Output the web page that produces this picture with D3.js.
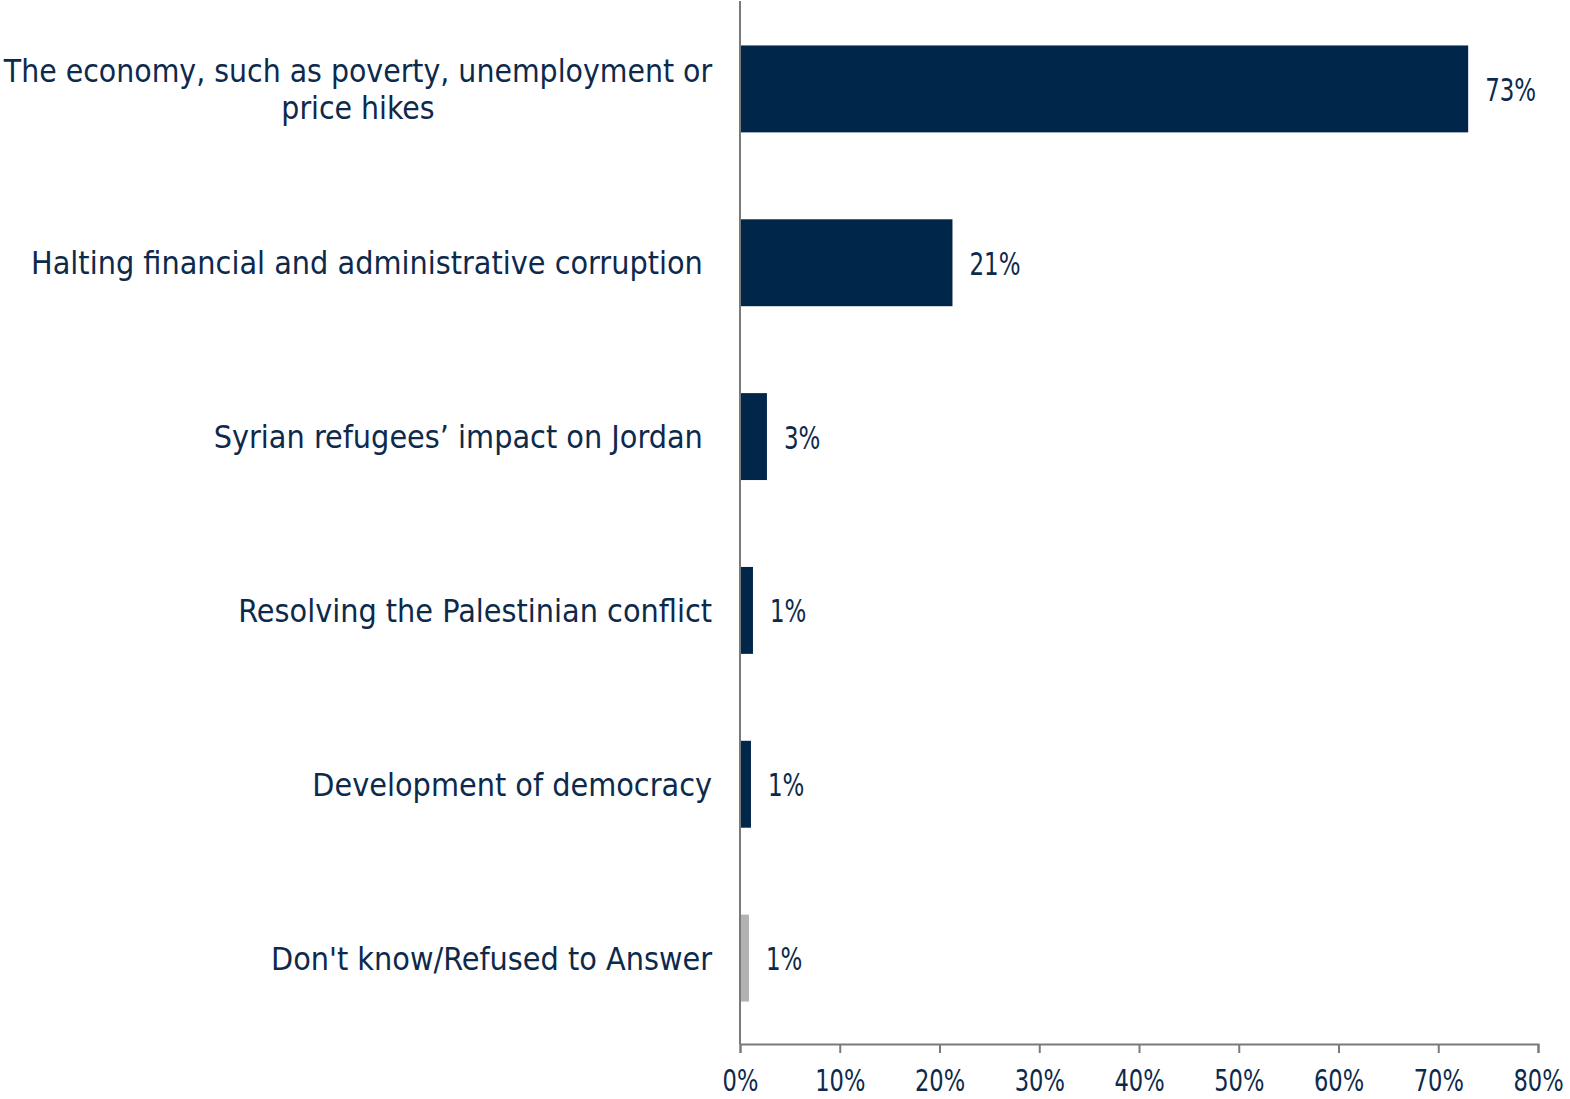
<!DOCTYPE html>
<html><head><meta charset="utf-8">
<script src="https://cdn.jsdelivr.net/npm/d3@7"></script>
<style>body{margin:0;background:#fff}svg{display:block}</style>
</head><body>
<svg id="c" width="1570" height="1099"></svg>
<script>
const categories = [
  ["The economy, such as poverty, unemployment or", "price hikes"],
  ["Halting financial and administrative corruption "],
  ["Syrian refugees’ impact on Jordan "],
  ["Resolving the Palestinian conflict"],
  ["Development of democracy"],
  ["Don't know/Refused to Answer"]
];
const values = [73.0, 21.3, 2.7, 1.3, 1.1, 0.9];
const valueLabels = ["73%", "21%", "3%", "1%", "1%", "1%"];
const barColors = ["#00264a", "#00264a", "#00264a", "#00264a", "#00264a", "#b2b2b2"];
const ticks = [0, 10, 20, 30, 40, 50, 60, 70, 80];

const svg = d3.select("#c");
const m = {left: 740, right: 1538, top: 1, bottom: 1044};
const font = "'DejaVu Sans Condensed', 'DejaVu Sans', sans-serif";
const textColor = "#0d2a4c";
const numScale = 0.81;

const x = d3.scaleLinear().domain([0, 80]).range([m.left, m.right]);
const y = d3.scaleBand().domain(d3.range(categories.length)).range([m.top, m.bottom]).paddingInner(0.5).paddingOuter(0.25);

// bars
svg.selectAll("rect.bar").data(values).join("rect")
  .attr("x", x(0)).attr("y", (d, i) => y(i) + 1)
  .attr("width", d => x(d) - x(0)).attr("height", y.bandwidth())
  .attr("fill", (d, i) => barColors[i]);

// x axis
const xa = svg.append("g").attr("transform", `translate(0,${m.bottom})`)
  .call(d3.axisBottom(x).tickValues(ticks).tickSize(9).tickFormat(d => d + "%"));
xa.select(".domain").attr("stroke", "#7a7a7a").attr("stroke-width", 2);
xa.selectAll(".tick line").attr("stroke", "#7a7a7a").attr("stroke-width", 2);
xa.selectAll(".tick text").attr("fill", textColor).attr("font-family", font)
  .attr("font-size", 31).attr("dy", null).attr("y", 47)
  .attr("transform", `scale(${numScale},1)`);

// y axis line
svg.append("line").attr("x1", x(0)).attr("x2", x(0)).attr("y1", m.top).attr("y2", m.bottom)
  .attr("stroke", "#7a7a7a").attr("stroke-width", 2);

// category labels
categories.forEach((lines, i) => {
  const cy = y(i) + 1 + y.bandwidth() / 2;
  const n = lines.length;
  lines.forEach((t, j) => {
    const multi = n > 1;
    svg.append("text")
      .attr("xml:space", "preserve").style("white-space", "pre")
      .attr("x", multi ? 358 : 712)
      .attr("y", cy + 11.5 + (j - (n - 1) / 2) * 37)
      .attr("text-anchor", multi ? "middle" : "end")
      .attr("font-family", font).attr("font-size", multi ? 31.6 : 32).attr("fill", textColor)
      .text(t);
  });
});

// value labels
const vg = svg.selectAll("g.val").data(values).join("g").attr("class", "val")
  .attr("transform", (d, i) => `translate(${x(d) + 17},${y(i) + 1 + y.bandwidth() / 2 + 12}) scale(${numScale},1)`);
vg.append("text")
  .attr("font-family", font).attr("font-size", 31.5).attr("fill", textColor)
  .text((d, i) => valueLabels[i]);
</script>
</body></html>
